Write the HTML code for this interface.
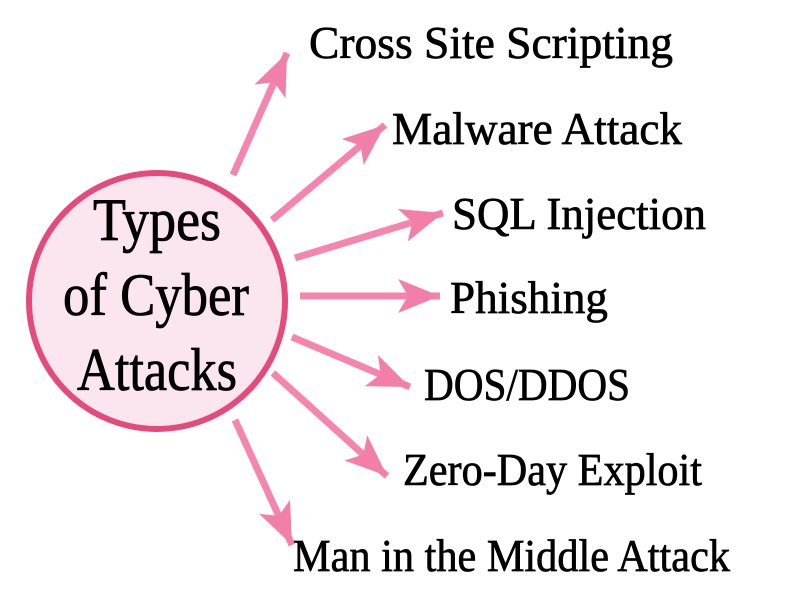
<!DOCTYPE html>
<html><head><meta charset="utf-8"><style>html,body{margin:0;padding:0;background:#fff}svg{display:block}</style></head>
<body>
<svg width="800" height="602" viewBox="0 0 800 602" xmlns="http://www.w3.org/2000/svg">
<defs>
<marker id="a" markerUnits="userSpaceOnUse" markerWidth="46" markerHeight="40" refX="42" refY="17" orient="auto" overflow="visible">
<path d="M0,0 L42,17 L0,34 L10,17 Z" fill="#f27fa8"/>
</marker>
</defs>
<g stroke="#f585ad" stroke-width="7" fill="none" marker-end="url(#a)">
<line x1="233" y1="175" x2="287" y2="53"/>
<line x1="272" y1="220" x2="385" y2="125"/>
<line x1="295" y1="258" x2="443" y2="213"/>
<line x1="300" y1="296" x2="440" y2="296"/>
<line x1="292" y1="337" x2="410" y2="387"/>
<line x1="273" y1="373" x2="387" y2="476"/>
<line x1="235" y1="420" x2="292" y2="545"/>
</g>
<circle cx="157" cy="301" r="128" fill="#fbe6f0" stroke="#e54a7c" stroke-width="6"/>
<g font-family="Liberation Serif, serif" fill="#000" stroke="#000" stroke-width="0.8" text-anchor="middle" font-size="60">
<text x="157" y="240" textLength="128" lengthAdjust="spacingAndGlyphs">Types</text>
<text x="156" y="315" textLength="186" lengthAdjust="spacingAndGlyphs">of Cyber</text>
<text x="157" y="390" textLength="160" lengthAdjust="spacingAndGlyphs">Attacks</text>
</g>
<g font-family="Liberation Serif, serif" fill="#000" stroke="#000" stroke-width="0.7" font-size="46">
<text x="309" y="58" textLength="364" lengthAdjust="spacingAndGlyphs">Cross Site Scripting</text>
<text x="392" y="144" textLength="290" lengthAdjust="spacingAndGlyphs">Malware Attack</text>
<text x="452" y="229" textLength="254" lengthAdjust="spacingAndGlyphs">SQL Injection</text>
<text x="450" y="313" textLength="158" lengthAdjust="spacingAndGlyphs">Phishing</text>
<text x="424" y="400" textLength="206" lengthAdjust="spacingAndGlyphs">DOS/DDOS</text>
<text x="403" y="485" textLength="299" lengthAdjust="spacingAndGlyphs">Zero-Day Exploit</text>
<text x="293" y="571" textLength="437" lengthAdjust="spacingAndGlyphs">Man in the Middle Attack</text>
</g>
</svg>
</body></html>
